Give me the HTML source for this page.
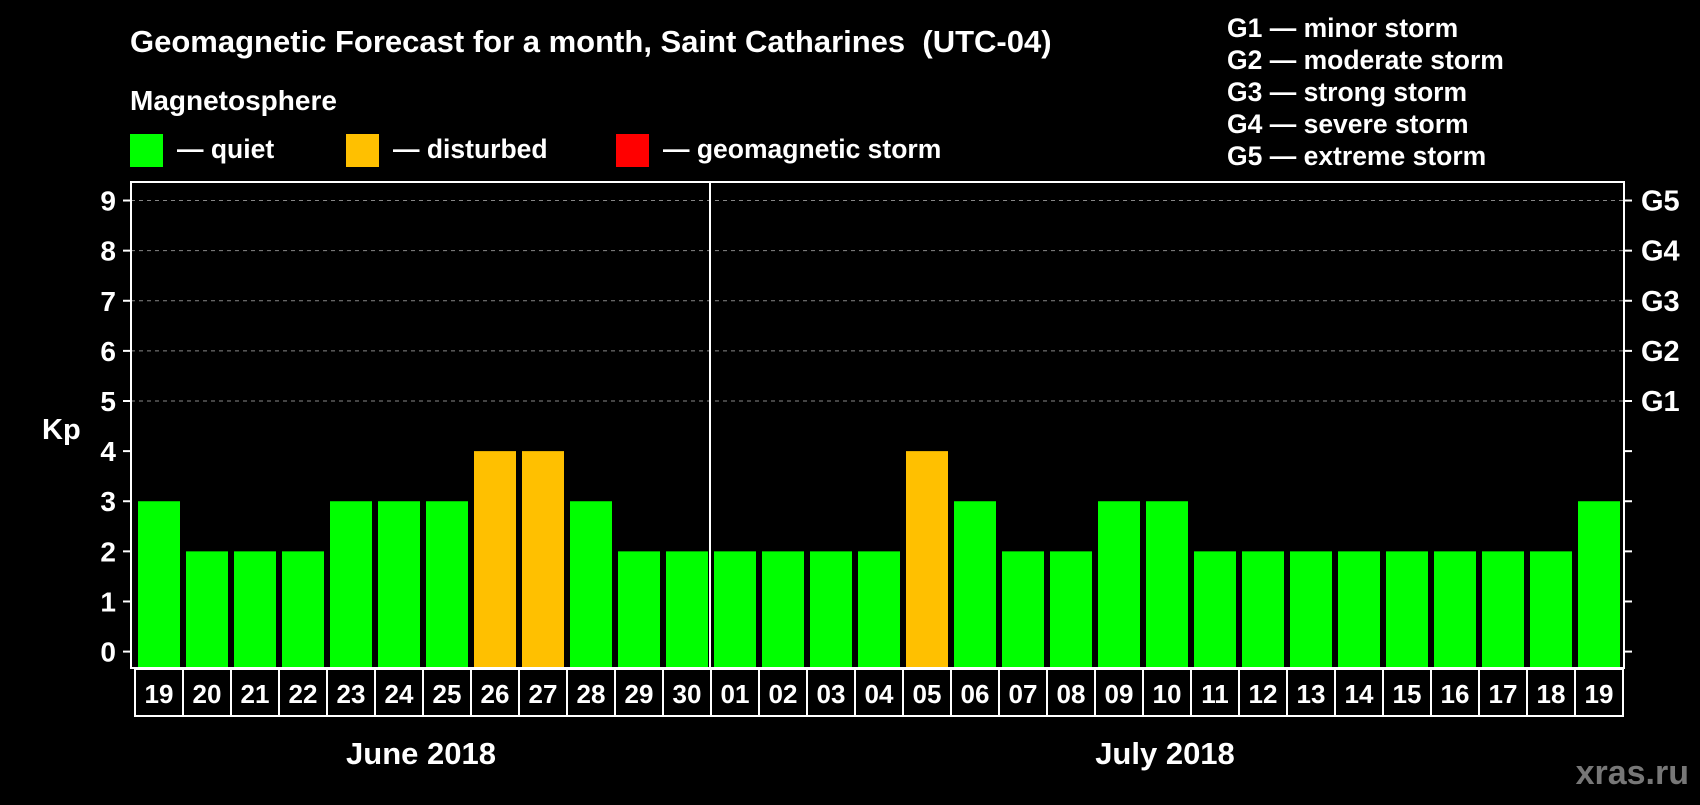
<!DOCTYPE html>
<html><head><meta charset="utf-8"><style>
body{margin:0;background:#000;width:1700px;height:800px;overflow:hidden;font-family:"Liberation Sans",Arial,sans-serif;font-weight:bold;color:#fff}
svg text{font-family:"Liberation Sans",Arial,sans-serif;font-weight:bold;white-space:pre}
</style></head><body>
<svg width="1700" height="800">
<rect width="1700" height="800" fill="#000"/>
<text x="130" y="52" font-size="31" fill="#fff" xml:space="preserve">Geomagnetic Forecast for a month, Saint Catharines  (UTC-04)</text>
<text x="130" y="110" font-size="28" fill="#fff">Magnetosphere</text>
<g><rect x="130" y="134" width="33" height="33" fill="#00ff00"/><text x="177" y="158" font-size="26.5" fill="#fff">— quiet</text></g>
<g><rect x="346" y="134" width="33" height="33" fill="#ffc000"/><text x="393" y="158" font-size="26.5" fill="#fff">— disturbed</text></g>
<g><rect x="616" y="134" width="33" height="33" fill="#ff0000"/><text x="663" y="158" font-size="26.5" fill="#fff">— geomagnetic storm</text></g>
<g font-size="26.5" fill="#fff">
<text x="1227" y="37">G1 — minor storm</text>
<text x="1227" y="69">G2 — moderate storm</text>
<text x="1227" y="101">G3 — strong storm</text>
<text x="1227" y="133">G4 — severe storm</text>
<text x="1227" y="165">G5 — extreme storm</text>
</g>
<text x="42" y="439" font-size="29" fill="#fff">Kp</text>
<g id="plot"></g>
<text x="421" y="764" font-size="31" fill="#fff" text-anchor="middle">June 2018</text>
<text x="1165" y="764" font-size="31" fill="#fff" text-anchor="middle">July 2018</text>
<text x="1689" y="784" font-size="34" fill="#777" text-anchor="end">xras.ru</text>
</svg>
<script>
const days=["19","20","21","22","23","24","25","26","27","28","29","30","01","02","03","04","05","06","07","08","09","10","11","12","13","14","15","16","17","18","19"];
const kp=[3,2,2,2,3,3,3,4,4,3,2,2,2,2,2,2,4,3,2,2,3,3,2,2,2,2,2,2,2,2,3];
const yTicks=[0,1,2,3,4,5,6,7,8,9];
const gLabels=["G1","G2","G3","G4","G5"];
const ns="http://www.w3.org/2000/svg";
const g=document.getElementById('plot');
const L=131,R=1624,T=182,B=668;
const y=v=>651.6-v*50.12;
const x0=138,pitch=48,bw=42;
const x=i=>x0+i*pitch;
function mk(t,a,p){const e=document.createElementNS(ns,t);for(const k in a)e.setAttribute(k,a[k]);(p||g).appendChild(e);return e;}
yTicks.forEach(v=>{
 if(v>=5){const l=mk('line',{x1:L,x2:R,y1:y(v),y2:y(v),stroke:'#888','stroke-dasharray':'4,4','stroke-width':1});
 
 }
 const t1=mk('line',{x1:L-8,x2:L,y1:y(v),y2:y(v),stroke:'#fff','stroke-width':2});
 
 
 const t2=mk('line',{x1:R,x2:R+8,y1:y(v),y2:y(v),stroke:'#fff','stroke-width':2});
 
 
 const tx=mk('text',{x:116,y:y(v)+10,'font-size':28,fill:'#fff','text-anchor':'end'});tx.textContent=v;
 
 
});
gLabels.forEach((s,i)=>{const t=mk('text',{x:1641,y:y(5+i)+10,'font-size':29,fill:'#fff'});t.textContent=s;
 
 });
kp.forEach((v,i)=>{
 const c=v>=5?'#ff0000':(v>=4?'#ffc000':'#00ff00');
 const r=mk('rect',{x:x(i),y:y(v),width:bw,height:B-y(v),fill:c});
 
 
 const bx=mk('rect',{x:x(i)-3,y:B+1,width:pitch,height:47,fill:'none',stroke:'#fff','stroke-width':2});
 
 
 const t=mk('text',{x:x(i)+bw/2,y:B+35,'font-size':26,fill:'#fff','text-anchor':'middle'});t.textContent=days[i];
 
 
});
const fr=mk('rect',{x:L,y:T,width:R-L,height:B-T,fill:'none',stroke:'#fff','stroke-width':2});


const dv=mk('line',{x1:x(12)-4,x2:x(12)-4,y1:T,y2:B,stroke:'#fff','stroke-width':2});


</script>
</body></html>
